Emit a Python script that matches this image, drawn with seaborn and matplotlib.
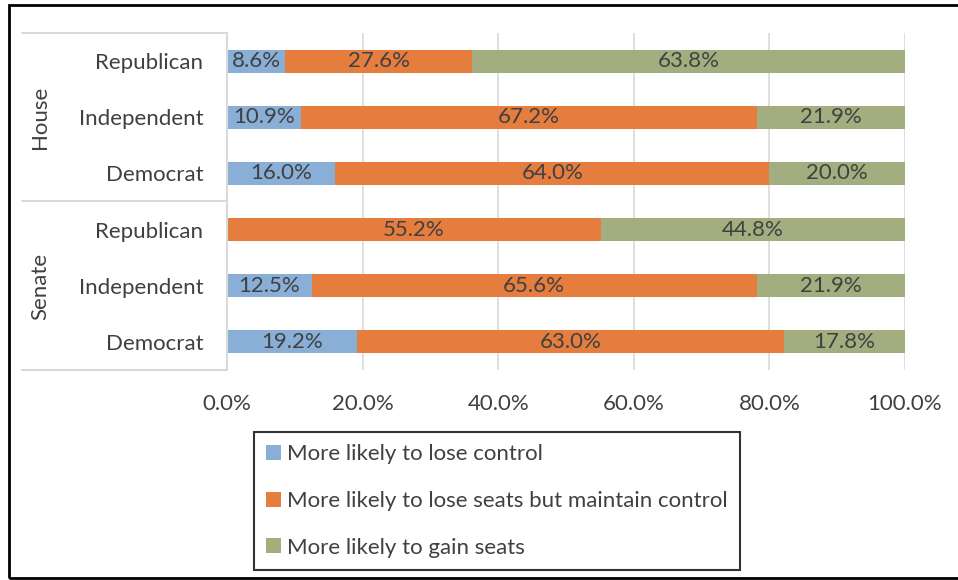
import matplotlib
matplotlib.use("Agg")
import matplotlib.pyplot as plt
from matplotlib.patches import Rectangle, Patch
from matplotlib.lines import Line2D
import numpy as np
import pandas as pd
import seaborn as sns

# Chamber / party rows, top to bottom
chambers = ["House", "House", "House", "Senate", "Senate", "Senate"]
parties = ["Republican", "Independent", "Democrat", "Republican", "Independent", "Democrat"]

# Percentages for each outcome
lose_control = [8.6, 10.9, 16.0, 0.0, 12.5, 19.2]
lose_seats_keep_control = [27.6, 67.2, 64.0, 55.2, 65.6, 63.0]
gain_seats = [63.8, 21.9, 20.0, 44.8, 21.9, 17.8]

series_names = [
    "More likely to lose control",
    "More likely to lose seats but maintain control",
    "More likely to gain seats",
]
x_ticks = [0, 20, 40, 60, 80, 100]
x_tick_labels = ["0.0%", "20.0%", "40.0%", "60.0%", "80.0%", "100.0%"]

colors = ["#8AAFD7", "#E47D3E", "#A3AE80"]
text_color = "#404040"
grid_color = "#D9D9D9"
fs = 16

sns.set_theme(style="white")
plt.rcParams["font.family"] = ["Lato", "DejaVu Sans"]

rows = [f"{c}|{p}" for c, p in zip(chambers, parties)]
df = pd.DataFrame({
    "row": rows,
    "s1": lose_control,
    "s2": lose_seats_keep_control,
    "s3": gain_seats,
})
df["c1"] = df["s1"]
df["c2"] = df["s1"] + df["s2"]
df["c3"] = df["s1"] + df["s2"] + df["s3"]

fig = plt.figure(figsize=(9.58, 5.8), dpi=100)
W, H = 958, 580
ax = fig.add_axes([227 / W, 1 - 370 / H, (905 - 227) / W, (370 - 33) / H])

# Stacked bars: draw cumulative totals from back to front
for col, color in zip(["c3", "c2", "c1"], [colors[2], colors[1], colors[0]]):
    sns.barplot(data=df, x=col, y="row", order=rows, color=color,
                width=0.41, saturation=1, linewidth=0, ax=ax, zorder=3)

# Value labels centred in each segment
for i, r in df.iterrows():
    starts = [0, r["c1"], r["c2"]]
    vals = [r["s1"], r["s2"], r["s3"]]
    for s, v in zip(starts, vals):
        if v > 0:
            ax.text(s + v / 2, i, f"{v:.1f}%", ha="center", va="center",
                    fontsize=fs, color=text_color, zorder=5)

ax.set_xlim(0, 100)
ax.set_ylim(5.5, -0.5)
ax.set_xticks(x_ticks)
ax.set_xticklabels(x_tick_labels, fontsize=fs, color=text_color)
ax.set_yticks(range(len(rows)))
ax.set_yticklabels(parties, fontsize=fs, color=text_color)
ax.tick_params(axis="x", length=0, pad=17)
ax.tick_params(axis="y", length=0, pad=17)
ax.set_xlabel("")
ax.set_ylabel("")
for sp in ax.spines.values():
    sp.set_visible(False)
for xt in x_ticks[1:]:
    ax.axvline(xt, color=grid_color, linewidth=1.2, zorder=1)

# Category axis line and group separators for the two chambers
line_kw = dict(color=grid_color, linewidth=1.5, transform=fig.transFigure)
fig.add_artist(Line2D([227 / W, 227 / W], [1 - 33 / H, 1 - 370 / H], **line_kw))
for yy in [33, 201, 370]:
    fig.add_artist(Line2D([22 / W, 227 / W], [1 - yy / H, 1 - yy / H], **line_kw))
fig.text(40 / W, 1 - 117 / H, "House", rotation=90, ha="center", va="center",
         fontsize=fs, color=text_color)
fig.text(40 / W, 1 - 286 / H, "Senate", rotation=90, ha="center", va="center",
         fontsize=fs, color=text_color)

# Legend
handles = [Patch(facecolor=c, edgecolor="none") for c in colors]
leg = fig.legend(handles, series_names, loc="upper left",
                 bbox_to_anchor=(254 / W, 1 - 432 / H), frameon=True,
                 fontsize=fs, labelcolor=text_color, handlelength=0.65,
                 handleheight=0.65, handletextpad=0.3, labelspacing=1.2,
                 borderpad=0.55, borderaxespad=0, fancybox=False)
leg.get_frame().set_edgecolor("black")
leg.get_frame().set_linewidth(1.5)

# Outer frame
fig.add_artist(Rectangle((8.5 / W, 1 - 578 / H), 1.0, (578 - 4.5) / H,
                         transform=fig.transFigure, fill=False,
                         edgecolor="black", linewidth=2, clip_on=False))

fig.savefig("out.png", dpi=100)
